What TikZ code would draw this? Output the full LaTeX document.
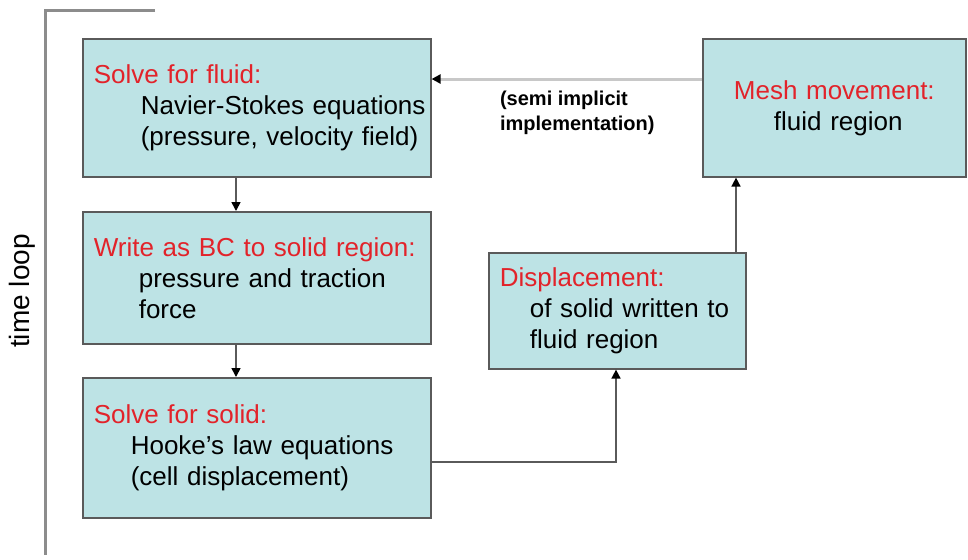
\documentclass[tikz,border=0pt]{standalone}
\usepackage{fontspec}
\setmainfont{Liberation Sans}
\usetikzlibrary{arrows.meta,positioning,calc}
\definecolor{boxfill}{HTML}{BDE3E5}
\definecolor{boxline}{HTML}{5A5A5A}
\definecolor{headred}{HTML}{E2232A}
\definecolor{loopgray}{HTML}{8C8C8C}
\definecolor{feedgray}{HTML}{C8C8C8}

\begin{document}
\begin{tikzpicture}[x=0.5pt,y=-0.5pt,
  every node/.style={font=\fontsize{13}{15.5}\selectfont},
  stepbox/.style={draw=boxline,fill=boxfill,line width=0.8pt,anchor=north west,
    inner xsep=5.5pt,inner ysep=0pt,align=left},
  flow/.style={draw=boxline,line width=0.8pt,-{Triangle[length=4.5pt,width=4.5pt,color=black]}}]
  \useasboundingbox (0,0) rectangle (968,559);
  % time loop bracket
  \draw[loopgray,line width=1.5pt] (155,10) -- (45,10) -- (45,555);
  \node[rotate=90,font=\fontsize{14}{16}\selectfont] (loop) at (22,291) {time loop};
  % columns and rows for the connectors
  \coordinate (colA) at (236,0);
  \coordinate (colD) at (616,0);
  \coordinate (colE) at (736,0);
  \coordinate (rowA) at (0,79);
  \coordinate (rowC) at (0,462);
  % left column
  \node[stepbox,text width=163pt,minimum height=69pt] (fluid) at (82,38)
    {{\color{headred}Solve for fluid:}\\
     \hspace*{23.5pt}\mbox{Navier-Stokes equations}\\
     \hspace*{23.5pt}(pressure, velocity field)};
  \node[stepbox,text width=163pt,minimum height=66pt] (bc) at (82,211)
    {{\color{headred}Write as BC to solid region:}\\
     \hspace*{22.5pt}pressure and traction\\
     \hspace*{22.5pt}force};
  \node[stepbox,text width=163pt,minimum height=70pt] (solid) at (82,377)
    {{\color{headred}Solve for solid:}\\
     \hspace*{18.5pt}Hooke's law equations\\
     \hspace*{18.5pt}(cell displacement)};
  % right side
  \node[stepbox,text width=117.5pt,minimum height=58pt] (disp) at (488,252)
    {{\color{headred}Displacement:}\\
     \hspace*{15pt}of solid written to\\
     \hspace*{15pt}fluid region};
  \node[stepbox,text width=120.5pt,minimum height=69pt,align=center] (mesh) at (702,38)
    {{\color{headred}Mesh movement:}\\
     \hspace*{4pt}fluid region};
  % connectors
  \draw[flow] (fluid.south -| colA) -- (bc.north -| colA);
  \draw[flow] (bc.south -| colA) -- (solid.north -| colA);
  \draw[flow] (solid.east |- rowC) -| (disp.south -| colD);
  \draw[flow] (disp.north -| colE) -- (mesh.south -| colE);
  \draw[feedgray,line width=1.5pt,-{Triangle[length=4.5pt,width=4.5pt,color=black]}]
    (mesh.west |- rowA) -- (fluid.east |- rowA);
  \node[anchor=north west,align=left,font=\bfseries\fontsize{10}{12.5}\selectfont] (semi)
    at (493,84) {(semi implicit\\implementation)};
\end{tikzpicture}
\end{document}
